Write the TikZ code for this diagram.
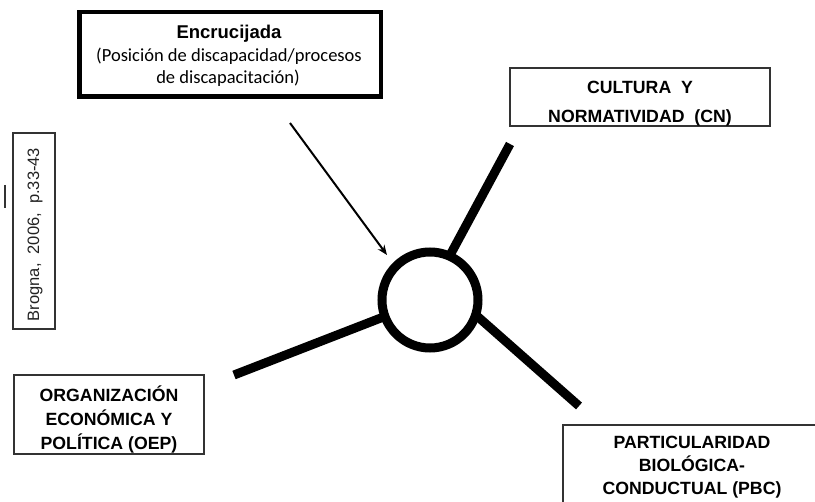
\documentclass[tikz,border=0pt]{standalone}
\usepackage{fontspec}
\setmainfont{Liberation Sans}
\newfontfamily\calibrifont{Carlito}
\usetikzlibrary{arrows.meta}
\definecolor{boxgray}{HTML}{333333}
\definecolor{txtgray}{HTML}{222222}
\begin{document}
\begin{tikzpicture}[x=1pt,y=-1pt,
  thickbox/.style={draw=black,line width=4.5pt,inner sep=0pt,outer sep=0pt},
  thinbox/.style={draw=boxgray,line width=1.6pt,inner sep=0pt,outer sep=0pt},
  lbl/.style={font=\fontsize{17.7}{22}\selectfont\bfseries,anchor=base,inner sep=0pt},
  ttl/.style={font=\fontsize{18.5}{22}\selectfont\bfseries,anchor=base,inner sep=0pt},
  sub/.style={font=\calibrifont\fontsize{18.5}{22}\selectfont,anchor=base,inner sep=0pt},
  spoke/.style={line width=9pt},
  ring/.style={circle,draw=black,line width=9pt,minimum size=96pt,inner sep=0pt,outer sep=0pt}
]
\useasboundingbox (0,0) rectangle (815,502);
\clip (0,0) rectangle (815,502);

% boxes
\node[thickbox,minimum width=301.5pt,minimum height=84.5pt] (enc) at (230,54.5) {};
\node[thinbox,minimum width=260pt,minimum height=58.4pt] (cn) at (640,97) {};
\node[thinbox,minimum width=190.4pt,minimum height=79.4pt] (oep) at (109,414.5) {};
\node[thinbox,minimum width=260pt,minimum height=100pt] (pbc) at (692.8,474.8) {};
\node[thinbox,minimum width=42pt,minimum height=196.4pt] (bro) at (34,231) {};

% texts
\node[ttl] (enct) at (229,38.3) {Encrucijada};
\node[sub] (encs1) at (229,61.7) {(Posición de discapacidad/procesos};
\node[sub] (encs2) at (228,83.3) {de discapacitación)};

\node[lbl] (cn1) at (640,93.3) {CULTURA\ \ Y};
\node[lbl] (cn2) at (640,123) {NORMATIVIDAD\ \ (CN)};

\node[lbl] (oep1) at (109,402) {ORGANIZACIÓN};
\node[lbl] (oep2) at (109,426) {ECONÓMICA Y};
\node[lbl] (oep3) at (109,450) {POLÍTICA (OEP)};

\node[lbl] (pbc1) at (692,448.3) {PARTICULARIDAD};
\node[lbl] (pbc2) at (692,471.7) {BIOLÓGICA-};
\node[lbl] (pbc3) at (692,495) {CONDUCTUAL (PBC)};

\node[rotate=90,font=\fontsize{16.5}{18}\selectfont,text=txtgray,inner sep=0pt] (brot) at (35,234.5) {Brogna,\ \ 2006,\ \ p.33-43};

% small mark
\coordinate (m1) at (5,185);
\coordinate (m2) at (5,208);
\draw[boxgray,line width=1.5pt] (m1) -- (m2);

% centre ring and spokes
\node[ring] (c) at (430,300) {};
\coordinate (cnend) at (510,144);
\coordinate (oepend) at (234,375);
\coordinate (pbcend) at (579,406);
\draw[spoke] (c.66) -- (cnend);
\draw[spoke] (c.200) -- (oepend);
\draw[spoke] (c.342) -- (pbcend);

% arrow
\coordinate (astart) at (290,123);
\coordinate (aend) at (387,255);
\draw[line width=2pt,-{Stealth[length=10pt,width=8pt]}] (astart) -- (aend);
\end{tikzpicture}
\end{document}
